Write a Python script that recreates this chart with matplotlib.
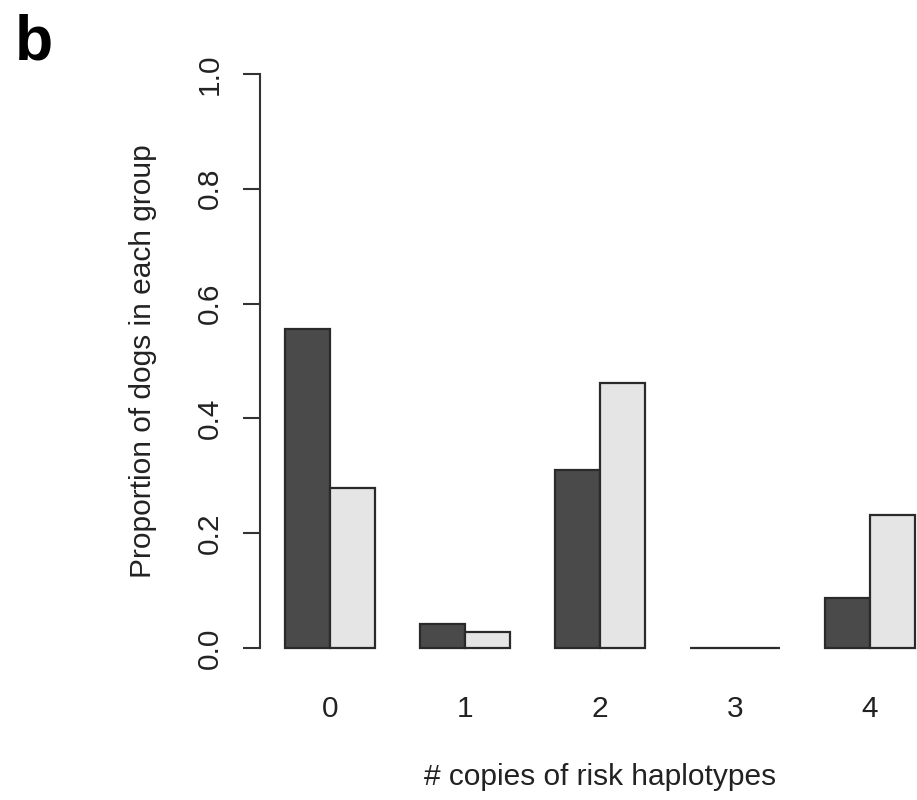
import matplotlib
matplotlib.use("Agg")
import matplotlib.pyplot as plt
import numpy as np

plt.rcParams['font.family'] = ['Liberation Sans', 'DejaVu Sans']

# Data: proportion of dogs per number of risk-haplotype copies
copies = ["0", "1", "2", "3", "4"]
group_dark = [0.556, 0.042, 0.310, 0.0, 0.087]
group_light = [0.279, 0.028, 0.462, 0.0, 0.232]
y_ticks = [0.0, 0.2, 0.4, 0.6, 0.8, 1.0]
y_tick_labels = ["0.0", "0.2", "0.4", "0.6", "0.8", "1.0"]

W, H = 917, 800
fig = plt.figure(figsize=(W / 100, H / 100), dpi=100)
fig.patch.set_facecolor("white")

# barplot-style layout: each group = 2 bars of width 1 plus 1 unit of space
ax = fig.add_axes([259.8 / W, 129 / H, 680.2 / W, 620 / H])
n = len(copies)
idx = np.arange(n)
left_dark = 1 + 3 * idx
left_light = 2 + 3 * idx
centers = 2 + 3 * idx

edge = "#2a2a2a"
ax.bar(left_dark, group_dark, width=1.0, align="edge",
       color="#4a4a4a", edgecolor=edge, linewidth=1.6)
ax.bar(left_light, group_light, width=1.0, align="edge",
       color="#e5e5e5", edgecolor=edge, linewidth=1.6)

ax.set_xlim(0.44, 15.56)
ax.set_ylim(-0.04, 1.04)

for s in ["top", "right", "bottom"]:
    ax.spines[s].set_visible(False)
ax.spines["left"].set_bounds(0, 1)
ax.spines["left"].set_linewidth(1.5)
ax.spines["left"].set_color("#333333")

fs = 21.5
txt = "#222222"
ax.set_yticks(y_ticks)
ax.set_yticklabels(y_tick_labels, rotation=90, va="center", fontsize=fs, color=txt)
ax.tick_params(axis="y", length=12, width=1.5, color="#333333", pad=14)

ax.set_xticks(centers)
ax.set_xticklabels(copies, fontsize=fs, color=txt)
ax.tick_params(axis="x", length=0, pad=17)

ax.set_xlabel("# copies of risk haplotypes", fontsize=fs, color=txt, labelpad=29)
ax.set_ylabel("Proportion of dogs in each group", fontsize=fs, color=txt, labelpad=28)

fig.text(15 / W, 1 - 59 / H, "b", fontsize=45, fontweight="bold", ha="left", va="baseline")

fig.savefig("out.png", dpi=100, facecolor="white")
